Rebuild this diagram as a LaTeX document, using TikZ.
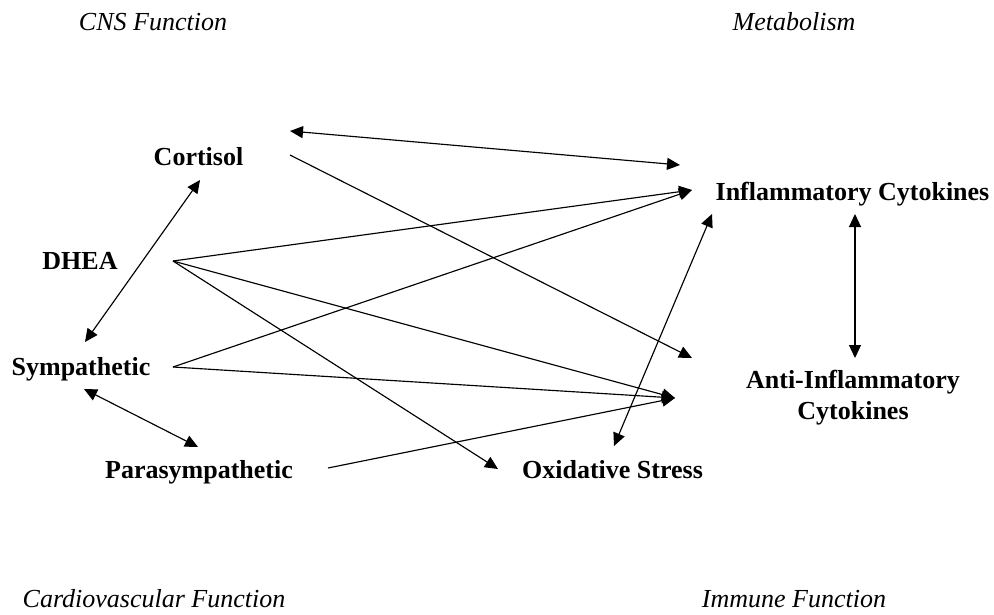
\documentclass[tikz,border=0pt]{standalone}
\usepackage{fontspec}
\setmainfont{Liberation Serif}
\usetikzlibrary{arrows.meta}
\begin{document}
\begin{tikzpicture}[x=1pt,y=-1pt,
  factor/.style={font=\fontsize{26}{31}\selectfont\bfseries, inner sep=0pt, anchor=base},
  arealabel/.style={font=\fontsize{26}{31}\selectfont\itshape, inner sep=0pt, anchor=base},
  link/.style={line width=1.15pt, -{Triangle[length=13pt,width=12pt]}},
  dlink/.style={line width=1.15pt, {Triangle[length=13pt,width=12pt]}-{Triangle[length=13pt,width=12pt]}}]
\useasboundingbox (0,0) rectangle (994,614);

% function areas in the corners
\node[arealabel] (cns)    at (153,30)  {CNS Function};
\node[arealabel] (meta)   at (794,30)  {Metabolism};
\node[arealabel] (cardio) at (154,607) {Cardiovascular Function};
\node[arealabel] (immune) at (794,607) {Immune Function};

% biomarkers
\node[factor] (cortisol) at (198.5,165) {Cortisol};
\node[factor] (dhea)     at (80,269)    {DHEA};
\node[factor] (symp)     at (81,375)    {Sympathetic};
\node[factor] (para)     at (199,478)   {Parasympathetic};
\node[factor] (oxid)     at (612.5,478) {Oxidative Stress};
\node[factor] (infl)     at (852.5,200) {Inflammatory Cytokines};
\node[factor, anchor=center, align=center] (anti) at (853,398) {Anti-Inflammatory\\Cytokines};

% connector end points
\coordinate (cortR)   at (290,131);
\coordinate (cortR2)  at (290,155);
\coordinate (cortB)   at (200,180);
\coordinate (dheaR)   at (173,261);
\coordinate (sympT)   at (85,342);
\coordinate (sympR)   at (173,367);
\coordinate (sympB)   at (84,389);
\coordinate (paraT)   at (198,447);
\coordinate (paraR)   at (328,468);
\coordinate (oxidL)   at (498,469);
\coordinate (oxidT)   at (614,446);
\coordinate (inflL)   at (680,165);
\coordinate (inflL2)  at (692,190);
\coordinate (inflBL)  at (712,214);
\coordinate (inflB)   at (855,214);
\coordinate (antiT)   at (855,358);
\coordinate (antiL)   at (692,358);
\coordinate (hub)     at (675,398);

% connectors
\draw[dlink] (cortR) -- (inflL);
\draw[link]  (cortR2) -- (antiL);
\draw[dlink] (sympT) -- (cortB);
\draw[link]  (dheaR) -- (inflL2);
\draw[link]  (dheaR) -- (hub);
\draw[link]  (dheaR) -- (oxidL);
\draw[link]  (sympR) -- (inflL2);
\draw[link]  (sympR) -- (hub);
\draw[link]  (paraR) -- (hub);
\draw[dlink] (sympB) -- (paraT);
\draw[dlink] (oxidT) -- (inflBL);
\draw[dlink] (inflB) -- (antiT);
\end{tikzpicture}
\end{document}
